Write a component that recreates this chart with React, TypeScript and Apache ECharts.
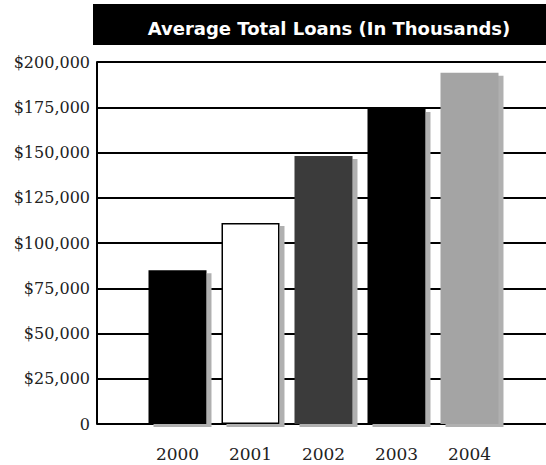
import React, { useEffect, useRef } from "react";
import * as echarts from "echarts";

const titleText = "Average Total Loans (In Thousands)";
const years = ["2000", "2001", "2002", "2003", "2004"];
const loans = [85000, 111000, 148000, 174000, 194000];
const yMin = 0;
const yMax = 200000;
const yStep = 25000;

const barFills = ["#000000", "#ffffff", "#3a3a3a", "#000000", "#a4a4a4"];

const fmt = (v: number) =>
  v === 0 ? "0" : "$" + v.toLocaleString("en-US");

export default function App() {
  const ref = useRef<HTMLDivElement>(null);
  useEffect(() => {
    document.body.style.margin = "0";
    const chart = echarts.init(ref.current!, null, { renderer: "svg" });
    chart.setOption({
      animation: false,
      backgroundColor: "#ffffff",
      title: {
        text: titleText,
        left: 324,
        top: 14,
        textAlign: "center",
        textStyle: {
          color: "#ffffff",
          fontFamily: "DejaVu Sans",
          fontWeight: "bold",
          fontSize: 18,
        },
      },
      graphic: [
        {
          type: "rect",
          z: -1,
          shape: { x: 93, y: 4, width: 453, height: 41 },
          style: { fill: "#000000" },
        },
      ],
      grid: [
        { left: 97, right: 0, top: 62, bottom: 41 },
        { left: 141, right: 40, top: 62, bottom: 41 },
      ],
      xAxis: [
        { type: "value", gridIndex: 0, show: false, min: 0, max: 1 },
        {
          type: "category",
          gridIndex: 1,
          data: years,
          axisLine: { show: false },
          axisTick: { show: false },
          axisLabel: {
            margin: 21,
            color: "#222",
            fontFamily: "DejaVu Serif",
            fontSize: 17,
          },
        },
      ],
      yAxis: [
        {
          type: "value",
          gridIndex: 0,
          min: yMin,
          max: yMax,
          interval: yStep,
          axisLine: { show: true, lineStyle: { color: "#000", width: 2 } },
          axisTick: { show: false },
          splitLine: { show: true, lineStyle: { color: "#000", width: 2 } },
          axisLabel: {
            margin: 7,
            color: "#222",
            fontFamily: "DejaVu Serif",
            fontSize: 16,
            formatter: (v: number) => fmt(v),
          },
        },
        {
          type: "value",
          gridIndex: 1,
          min: yMin,
          max: yMax,
          interval: yStep,
          show: false,
          splitLine: { show: false },
        },
      ],
      series: [
        {
          type: "bar",
          xAxisIndex: 1,
          yAxisIndex: 1,
          barWidth: 58,
          data: loans.map((v, i) => ({
            value: v,
            itemStyle: {
              color: barFills[i],
              borderColor: "#000",
              borderWidth: i === 1 ? 1.5 : 0,
              shadowColor: "#b0b0b0",
              shadowOffsetX: 5,
              shadowOffsetY: 3,
              shadowBlur: 0,
            },
          })),
        },
      ],
    });
    return () => chart.dispose();
  }, []);
  return (
    <div
      ref={ref}
      style={{ position: "fixed", left: 0, top: 0, width: 546, height: 465 }}
    />
  );
}
